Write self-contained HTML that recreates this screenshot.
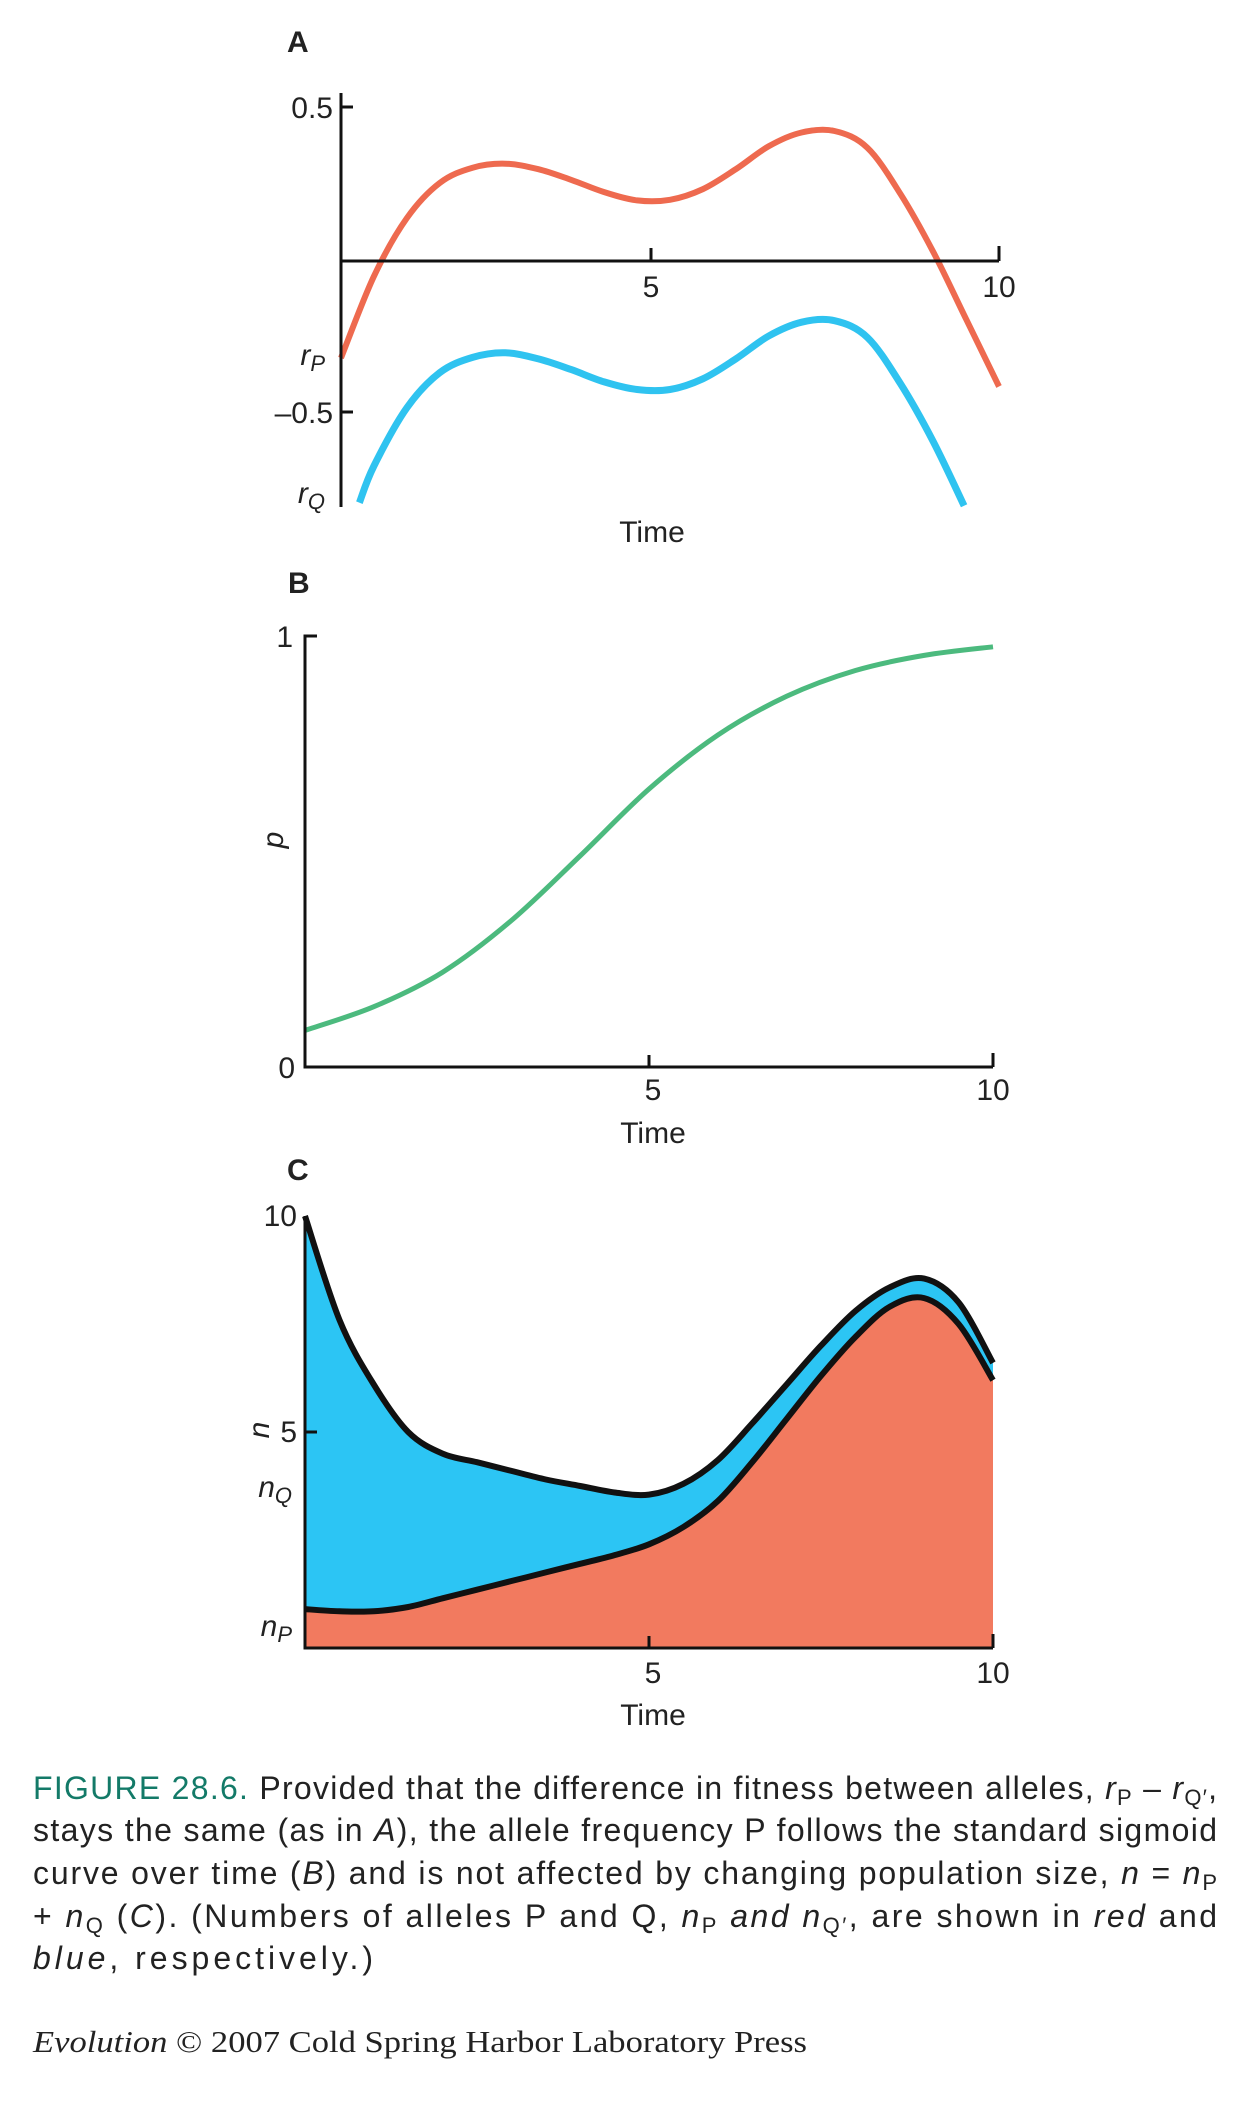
<!DOCTYPE html>
<html><head><meta charset="utf-8"><style>
html,body{margin:0;padding:0;background:#fff;}
svg{display:block;font-family:"Liberation Sans",sans-serif;}
</style></head><body>
<svg id="fig" width="1249" height="2101" viewBox="0 0 1249 2101" xmlns="http://www.w3.org/2000/svg">
<g id="pa"></g>
<g id="pb"></g>
<g id="pc"></g>
<g font-size="30" fill="#222">
<text x="287" y="52" font-size="30" font-weight="bold">A</text>
<text x="333" y="118" text-anchor="end">0.5</text>
<text x="333" y="423" text-anchor="end">–0.5</text>
<text x="325" y="365" text-anchor="end" font-style="italic">r<tspan font-size="22" dy="6">P</tspan></text>
<text x="325" y="503" text-anchor="end" font-style="italic">r<tspan font-size="22" dy="6">Q</tspan></text>
<text x="651" y="297" text-anchor="middle">5</text>
<text x="999" y="297" text-anchor="middle">10</text>
<text x="652" y="542" text-anchor="middle">Time</text>

<text x="288" y="593" font-weight="bold">B</text>
<text x="293" y="647" text-anchor="end">1</text>
<text x="295" y="1078" text-anchor="end">0</text>
<text x="0" y="0" font-style="italic" text-anchor="middle" transform="translate(283,840) rotate(-90)">p</text>
<text x="653" y="1100" text-anchor="middle">5</text>
<text x="993" y="1100" text-anchor="middle">10</text>
<text x="653" y="1143" text-anchor="middle">Time</text>

<text x="287" y="1180" font-weight="bold">C</text>
<text x="297" y="1226" text-anchor="end">10</text>
<text x="297" y="1442" text-anchor="end">5</text>
<text x="0" y="0" font-style="italic" text-anchor="middle" transform="translate(269,1430) rotate(-90)">n</text>
<text x="292" y="1497" text-anchor="end" font-style="italic">n<tspan font-size="22" dy="6">Q</tspan></text>
<text x="292" y="1636" text-anchor="end" font-style="italic">n<tspan font-size="22" dy="6">P</tspan></text>
<text x="653" y="1683" text-anchor="middle">5</text>
<text x="993" y="1683" text-anchor="middle">10</text>
<text x="653" y="1725" text-anchor="middle">Time</text>
</g>
<g font-size="32" fill="#222">
<text x="33" y="1799" textLength="1184" lengthAdjust="spacing"><tspan fill="#137a68">FIGURE 28.6.</tspan> Provided that the difference in fitness between alleles, <tspan font-style="italic">r</tspan><tspan font-size="22" dy="6">P</tspan><tspan dy="-6"> – </tspan><tspan font-style="italic">r</tspan><tspan font-size="22" dy="6">Q′</tspan><tspan dy="-6">,</tspan></text>
<text x="33" y="1841" textLength="1184" lengthAdjust="spacing">stays the same (as in <tspan font-style="italic">A</tspan>), the allele frequency P follows the standard sigmoid</text>
<text x="33" y="1884" textLength="1184" lengthAdjust="spacing">curve over time (<tspan font-style="italic">B</tspan>) and is not affected by changing population size, <tspan font-style="italic">n</tspan> = <tspan font-style="italic">n</tspan><tspan font-size="22" dy="6">P</tspan></text>
<text x="33" y="1927" textLength="1184" lengthAdjust="spacing">+ <tspan font-style="italic">n</tspan><tspan font-size="22" dy="6">Q</tspan><tspan dy="-6"> (</tspan><tspan font-style="italic">C</tspan>). (Numbers of alleles P and Q, <tspan font-style="italic">n</tspan><tspan font-size="22" dy="6">P</tspan><tspan dy="-6" font-style="italic"> and n</tspan><tspan font-size="22" dy="6">Q′</tspan><tspan dy="-6">, are shown in </tspan><tspan font-style="italic">red</tspan> and</text>
<text x="33" y="1969" textLength="340" lengthAdjust="spacing"><tspan font-style="italic">blue</tspan>, respectively.)</text>
<text x="33" y="2052" font-family="Liberation Serif, serif" font-size="31" textLength="774" lengthAdjust="spacingAndGlyphs"><tspan font-style="italic">Evolution</tspan> © 2007 Cold Spring Harbor Laboratory Press</text>
</g>
</svg>
<script>
// Panel A data
const aTimes = [0,0.5,1,1.5,2,2.5,3,3.5,4,4.5,5,5.5,6,6.5,7,7.5,8,8.5,9,9.5,10];
const rP = [-0.317,-0.05,0.14,0.255,0.305,0.318,0.30,0.265,0.225,0.198,0.2,0.235,0.3,0.375,0.42,0.425,0.37,0.22,0.03,-0.19,-0.41];
const bTimes = [0.28,0.5,1,1.5,2,2.5,3,3.5,4,4.5,5,5.5,6,6.5,7,7.5,8,8.5,9,9.47];
const rQ = [-0.79,-0.67,-0.48,-0.365,-0.315,-0.30,-0.32,-0.355,-0.395,-0.42,-0.42,-0.385,-0.32,-0.245,-0.20,-0.195,-0.25,-0.40,-0.59,-0.80];
// Panel B data
const pTimes = [0,1,2,3,4,5,6,7,8,9,10];
const pVals = [0.085,0.14,0.22,0.34,0.49,0.645,0.77,0.86,0.92,0.955,0.975];
// Panel C data
const cTimes = [0,0.5,1,1.5,2,2.5,3,3.5,4,4.5,5,5.5,6,6.5,7,7.5,8,8.5,9,9.5,10];
const nTotal = [10,7.6,6.1,5.0,4.5,4.3,4.1,3.9,3.75,3.6,3.55,3.8,4.35,5.2,6.1,7.0,7.8,8.35,8.55,8.0,6.6];
const nP = [0.9,0.85,0.85,0.95,1.15,1.35,1.55,1.75,1.95,2.15,2.4,2.8,3.4,4.3,5.3,6.3,7.2,7.9,8.1,7.5,6.2];

const NS='http://www.w3.org/2000/svg';
function mk(parent,tag,attrs){const e=document.createElementNS(NS,tag);for(const k in attrs)e.setAttribute(k,attrs[k]);parent.appendChild(e);return e;}
function smooth(pts){
  let d='M'+pts[0][0].toFixed(1)+','+pts[0][1].toFixed(1);
  for(let i=0;i<pts.length-1;i++){
    const p0=pts[i-1]||pts[i],p1=pts[i],p2=pts[i+1],p3=pts[i+2]||p2;
    const c1=[p1[0]+(p2[0]-p0[0])/6,p1[1]+(p2[1]-p0[1])/6];
    const c2=[p2[0]-(p3[0]-p1[0])/6,p2[1]-(p3[1]-p1[1])/6];
    d+=' C'+c1.map(v=>v.toFixed(1))+' '+c2.map(v=>v.toFixed(1))+' '+p2.map(v=>v.toFixed(1));
  }
  return d;
}
// Axis functions
const axA={x:t=>341+65.8*t,y:v=>261-306*v};
const axB={x:t=>305+68.8*t,y:v=>1067-431*v};
const axC={x:t=>305+68.8*t,y:v=>1648-43.2*v};

// Panel A
const pa=document.getElementById('pa');
let e;
e=mk(pa,'path',{d:smooth(aTimes.map((t,i)=>[axA.x(t),axA.y(rP[i])])),fill:'none',stroke:'#ee6a4f','stroke-width':6});


e=mk(pa,'path',{d:smooth(bTimes.map((t,i)=>[axA.x(t),axA.y(rQ[i])])),fill:'none',stroke:'#2fc3f0','stroke-width':7});


e=mk(pa,'path',{d:'M341,93 V507 M341,261 H999 M341,107 H353 M341,412 H353 M651,261 V248 M999,261 V246',stroke:'#111','stroke-width':3,fill:'none'});



// Panel B
const pb=document.getElementById('pb');
e=mk(pb,'path',{d:smooth(pTimes.map((t,i)=>[axB.x(t),axB.y(pVals[i])])),fill:'none',stroke:'#4cba7e','stroke-width':5});


e=mk(pb,'path',{d:'M317,636 H305 V1067 H993 M649,1067 V1055 M993,1067 V1053',stroke:'#111','stroke-width':3,fill:'none'});



// Panel C
const pc=document.getElementById('pc');
const topPts=cTimes.map((t,i)=>[axC.x(t),axC.y(nTotal[i])]);
const redPts=cTimes.map((t,i)=>[axC.x(t),axC.y(nP[i])]);
const base=axC.y(0);
e=mk(pc,'path',{d:smooth(topPts)+' L'+axC.x(10)+','+base+' L'+axC.x(0)+','+base+' Z',fill:'#2cc5f4'});


e=mk(pc,'path',{d:smooth(redPts)+' L'+axC.x(10)+','+base+' L'+axC.x(0)+','+base+' Z',fill:'#f27a5f'});


e=mk(pc,'path',{d:smooth(topPts),fill:'none',stroke:'#111','stroke-width':6});


e=mk(pc,'path',{d:smooth(redPts),fill:'none',stroke:'#111','stroke-width':6});


e=mk(pc,'path',{d:'M305,1216 V1648 H993 M305,1432 H317 M649,1648 V1636 M993,1648 V1634',stroke:'#111','stroke-width':3,fill:'none'});


</script>
</body></html>
